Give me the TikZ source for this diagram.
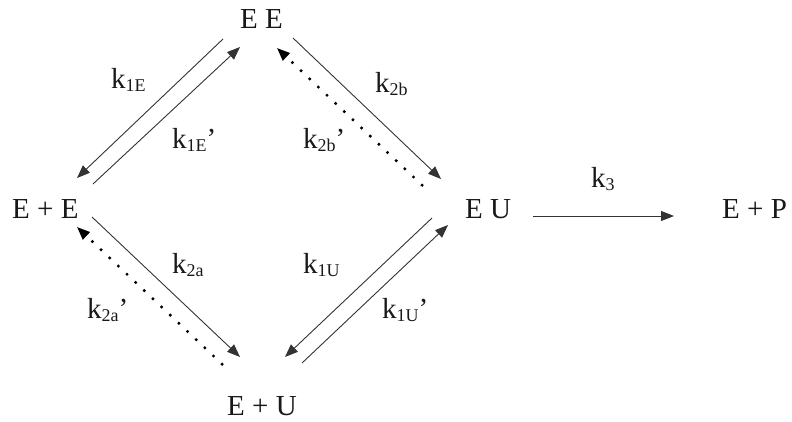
\documentclass[tikz,border=0pt]{standalone}
\usepackage{fontspec}
\setmainfont{Liberation Serif}
\usetikzlibrary{arrows.meta}
\newcommand\kk[1]{k\raisebox{-3pt}{\fontsize{18}{18}\selectfont #1}}
\begin{document}
\begin{tikzpicture}[x=1pt,y=-1pt,
  lbl/.style={anchor=base west, inner sep=0pt, font=\fontsize{29}{32}\selectfont, text=black!90},
  arr/.style={draw=black!80, line width=0.9pt, -{Triangle[length=13pt,width=10pt]}},
  dotarr/.style={arr, draw=black, line width=2.4pt, dash pattern=on 2.4pt off 9.5pt}]
\useasboundingbox (0,0) rectangle (792,421);
% species
\node[lbl] (EE) at (240,28) {E E};
\node[lbl] (EpE) at (12,218) {E + E};
\node[lbl] (EU) at (465,218) {E U};
\node[lbl] (EpP) at (722,218) {E + P};
\node[lbl] (EpU) at (227,415) {E + U};
% rate labels
\node[lbl] (l1E) at (111,88) {\kk{1E}};
\node[lbl] (l1Ep) at (172,148) {\kk{1E}’};
\node[lbl] (l2b) at (375,92) {\kk{2b}};
\node[lbl] (l2bp) at (303,148) {\kk{2b}’};
\node[lbl] (l2a) at (172,273) {\kk{2a}};
\node[lbl] (l2ap) at (87,318) {\kk{2a}’};
\node[lbl] (l1U) at (303,273) {\kk{1U}};
\node[lbl] (l1Up) at (382,318) {\kk{1U}’};
\node[lbl] (l3) at (591,187) {\kk{3}};
% arrow end points
\coordinate (a1s) at (223,39);  \coordinate (a1e) at (77,178);
\coordinate (a2s) at (93,184);  \coordinate (a2e) at (240,47);
\coordinate (b1s) at (293,38);  \coordinate (b1e) at (441,179);
\coordinate (b2s) at (423,186); \coordinate (b2e) at (277,48);
\coordinate (c1s) at (92,217);  \coordinate (c1e) at (240,357);
\coordinate (c2s) at (223,365); \coordinate (c2e) at (77,227);
\coordinate (d1s) at (432,218); \coordinate (d1e) at (285,357);
\coordinate (d2s) at (302,363); \coordinate (d2e) at (448,225);
\coordinate (e1s) at (533,216); \coordinate (e1e) at (674,216);
% arrows
\draw[arr] (a1s) -- (a1e);
\draw[arr] (a2s) -- (a2e);
\draw[arr] (b1s) -- (b1e);
\draw[dotarr] (b2s) -- (b2e);
\draw[arr] (c1s) -- (c1e);
\draw[dotarr] (c2s) -- (c2e);
\draw[arr] (d1s) -- (d1e);
\draw[arr] (d2s) -- (d2e);
\draw[arr] (e1s) -- (e1e);
\end{tikzpicture}
\end{document}
